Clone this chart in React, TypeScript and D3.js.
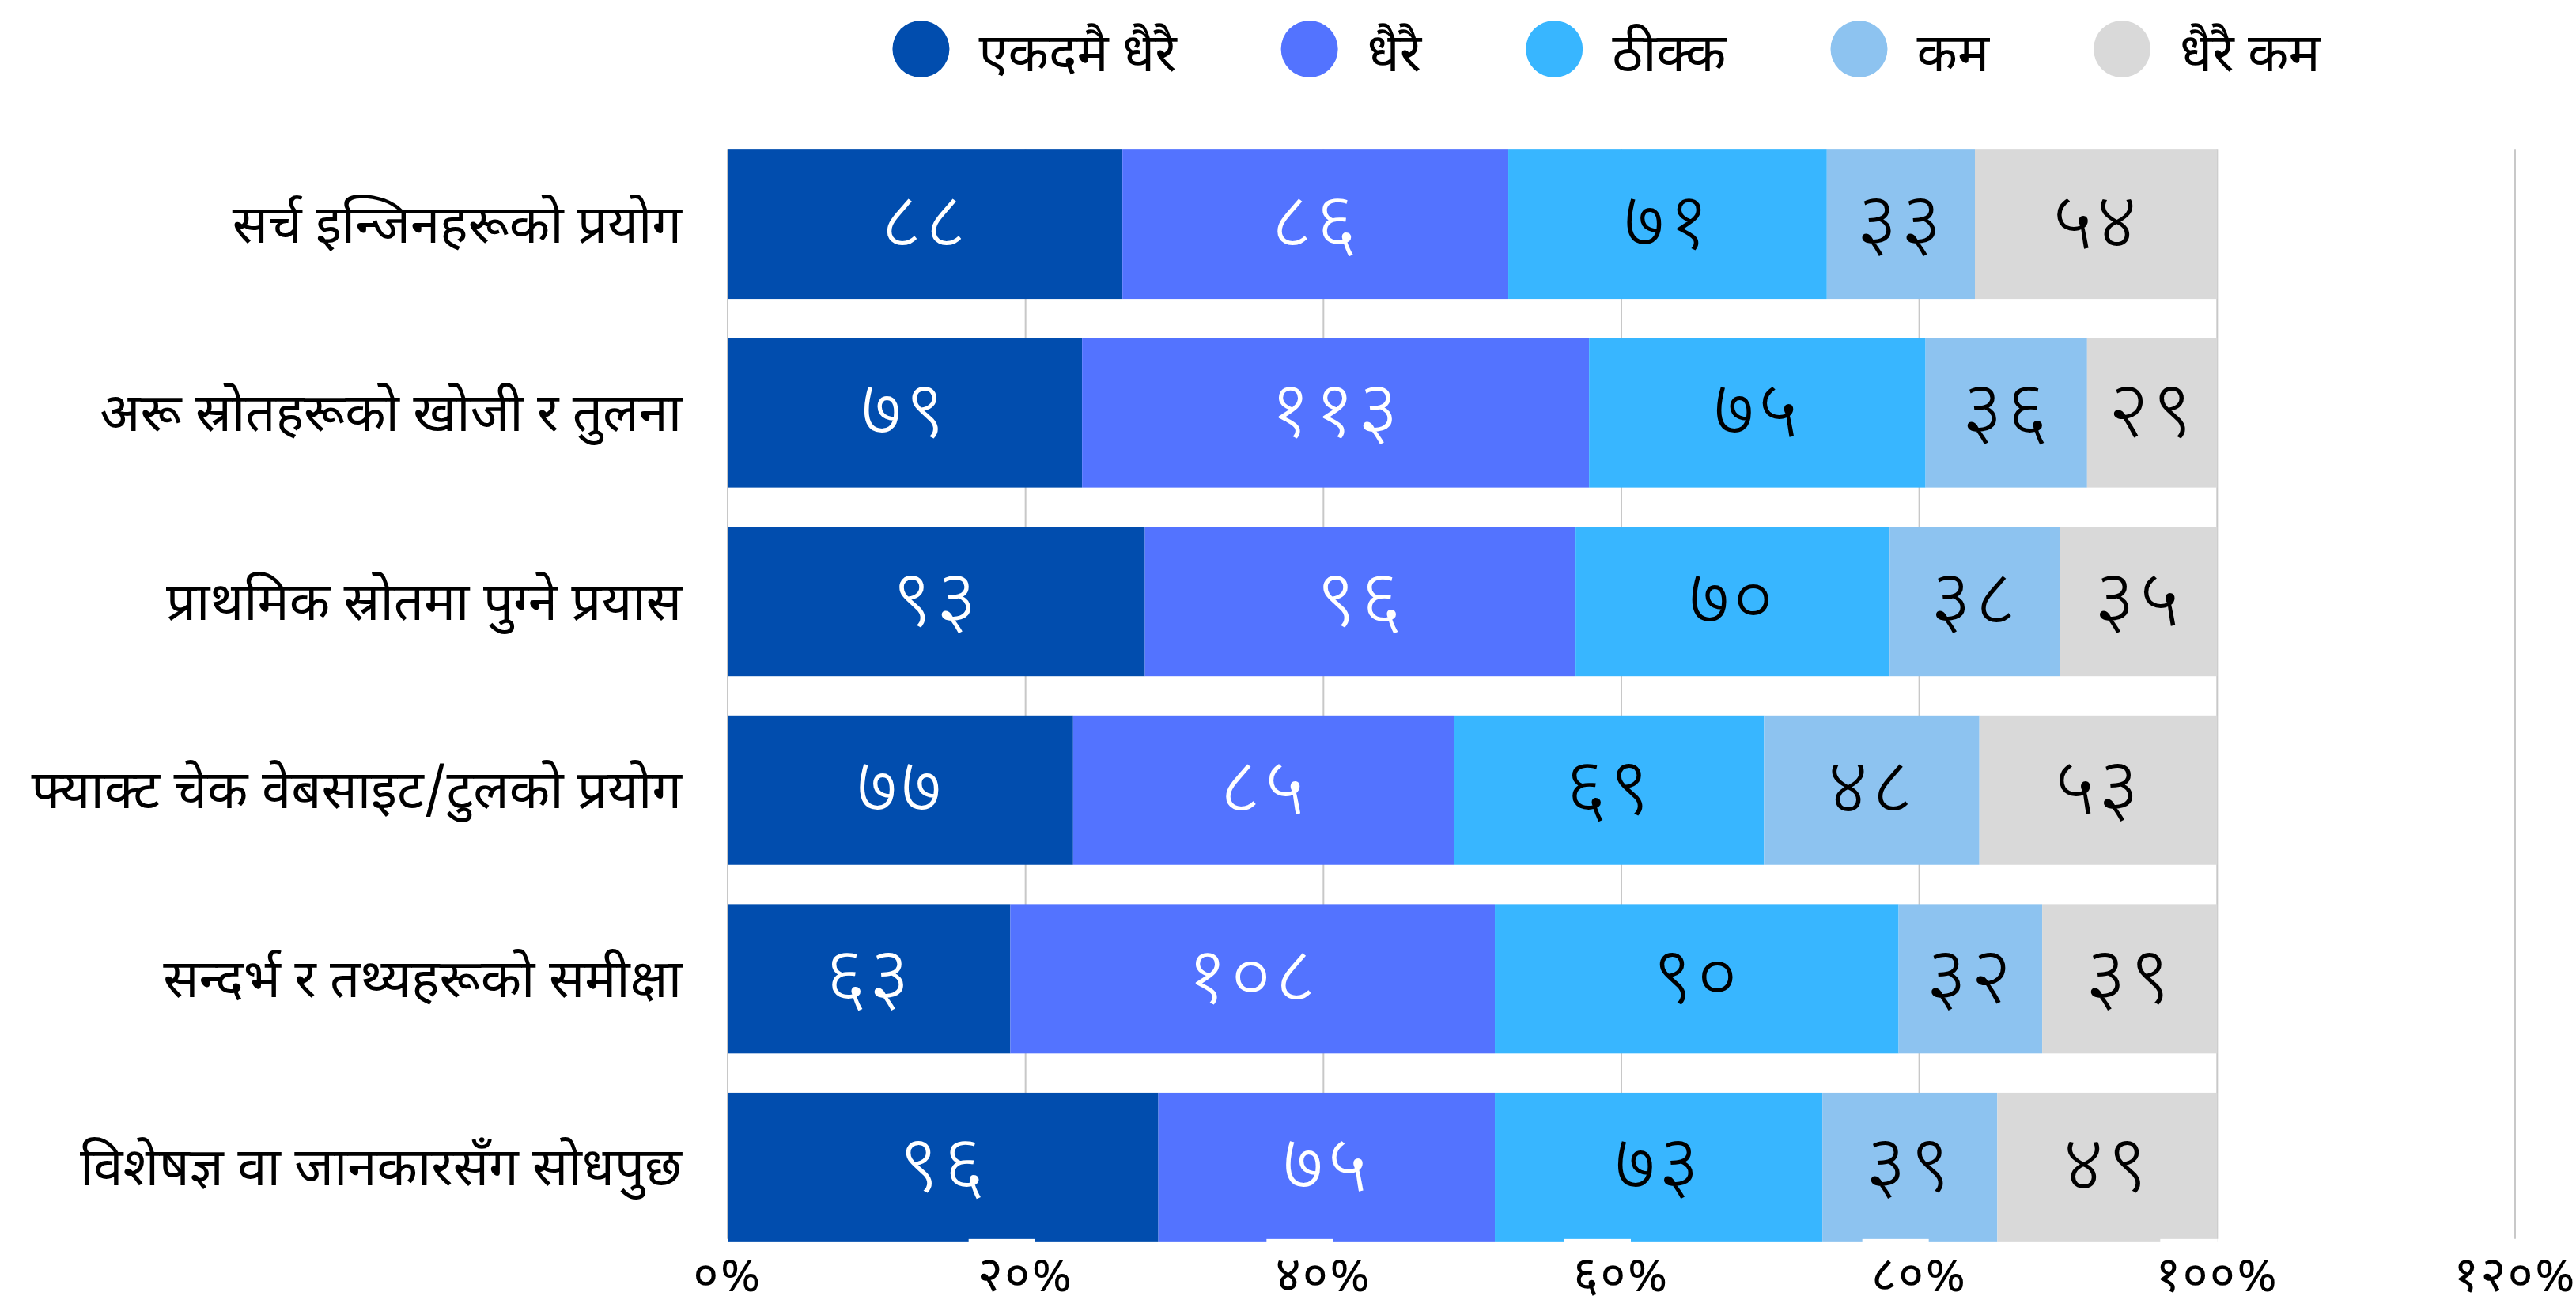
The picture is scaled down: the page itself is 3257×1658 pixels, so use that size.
import React, { useEffect, useRef } from "react";
import * as d3 from "d3";

// Survey: how often respondents use each verification practice
const categories = [
  "सर्च इन्जिनहरूको प्रयोग",
  "अरू स्रोतहरूको खोजी र तुलना",
  "प्राथमिक स्रोतमा पुग्ने प्रयास",
  "फ्याक्ट चेक वेबसाइट/टुलको प्रयोग",
  "सन्दर्भ र तथ्यहरूको समीक्षा",
  "विशेषज्ञ वा जानकारसँग सोधपुछ",
];

const seriesNames = ["एकदमै धैरै", "धैरै", "ठीक्क", "कम", "धैरै कम"];

const veryMuch = [88, 79, 93, 77, 63, 96];
const much = [86, 113, 96, 85, 108, 75];
const okay = [71, 75, 70, 69, 90, 73];
const little = [33, 36, 38, 48, 32, 39];
const veryLittle = [54, 29, 35, 53, 39, 49];

const xTicks = [0, 20, 40, 60, 80, 100, 120];

const seriesColors = ["#014DAE", "#5373FF", "#38B6FF", "#8DC3F0", "#D9D9D9"];
const labelColors = ["#ffffff", "#ffffff", "#000000", "#000000", "#000000"];

const W = 3257;
const H = 1658;
const FONT = "'Noto Sans Devanagari', 'Noto Sans', 'DejaVu Sans', sans-serif";

const DEVA = "०१२३४५६७८९";
const toDeva = (s: string) => s.replace(/[0-9]/g, (c) => DEVA[+c]);

export default function App() {
  const ref = useRef<SVGSVGElement | null>(null);

  useEffect(() => {
    const svg = d3.select(ref.current);
    svg.selectAll("*").remove();

    const keys = seriesNames;
    const columns = [veryMuch, much, okay, little, veryLittle];
    const rows = categories.map((c, i) => {
      const r: any = { category: c };
      keys.forEach((k, j) => (r[k] = columns[j][i]));
      return r;
    });

    const stacked = d3.stack<any>().keys(keys).offset(d3.stackOffsetExpand)(rows);

    const x = d3.scaleLinear().domain([0, 120]).range([920, 3180]);
    const y = d3
      .scaleBand<string>()
      .domain(categories)
      .range([166, 1594])
      .paddingInner(0.208)
      .paddingOuter(0.097);

    const top = y(categories[0])!;
    const bottom = y(categories[categories.length - 1])! + y.bandwidth();

    // vertical gridlines
    svg
      .append("g")
      .selectAll("line")
      .data(xTicks)
      .join("line")
      .attr("x1", (d) => x(d))
      .attr("x2", (d) => x(d))
      .attr("y1", top)
      .attr("y2", bottom - 4)
      .attr("stroke", "#c8c8c8")
      .attr("stroke-width", 2);

    // stacked segments
    const layers = svg
      .append("g")
      .selectAll("g")
      .data(stacked)
      .join("g")
      .attr("fill", (_d, i) => seriesColors[i]);

    layers
      .selectAll("rect")
      .data((d) => d)
      .join("rect")
      .attr("x", (d) => x(d[0] * 100))
      .attr("width", (d) => x(d[1] * 100) - x(d[0] * 100))
      .attr("y", (d) => y(d.data.category)!)
      .attr("height", y.bandwidth());

    // value labels
    stacked.forEach((layer, i) => {
      svg
        .append("g")
        .selectAll("text")
        .data(layer)
        .join("text")
        .attr("x", (d) => (x(d[0] * 100) + x(d[1] * 100)) / 2)
        .attr("y", (d) => y(d.data.category)! + y.bandwidth() / 2)
        .attr("dy", "0.3em")
        .attr("text-anchor", "middle")
        .attr("font-family", FONT)
        .attr("font-size", 100)
        .attr("font-weight", 300)
        .attr("letter-spacing", 4)
        .attr("fill", labelColors[i])
        .text((d) => toDeva(String(d.data[layer.key])));
    });

    // knock-outs along the baseline under the tick labels
    svg
      .append("g")
      .selectAll("rect")
      .data(xTicks.filter((t) => t > 0 && t <= 100))
      .join("rect")
      .attr("x", (d) => x(d) - 72)
      .attr("width", (d) => Math.min(84, x(100) - (x(d) - 72)))
      .attr("y", bottom - 4)
      .attr("height", 5)
      .attr("fill", "#ffffff");

    // category labels
    svg
      .append("g")
      .selectAll("text")
      .data(categories)
      .join("text")
      .attr("x", 862)
      .attr("y", (d) => y(d)! + y.bandwidth() / 2 + 23)
      .attr("text-anchor", "end")
      .attr("font-family", FONT)
      .attr("font-size", 67)
      .attr("fill", "#000")
      .text((d) => d);

    // x tick labels
    svg
      .append("g")
      .selectAll("text")
      .data(xTicks)
      .join("text")
      .attr("x", (d) => x(d))
      .attr("y", 1633)
      .attr("text-anchor", "middle")
      .attr("font-family", FONT)
      .attr("font-size", 62)
      .attr("letter-spacing", 2)
      .attr("fill", "#000")
      .text((d) => toDeva(String(d)) + "%");

    // legend
    const legend = svg.append("g");
    const r = 36;
    const gapText = 37;
    const gapItem = 132;
    const items = legend.selectAll("g").data(keys).join("g");
    items
      .append("circle")
      .attr("r", r)
      .attr("cy", 62)
      .attr("fill", (_d, i) => seriesColors[i]);
    const texts = items
      .append("text")
      .attr("y", 90)
      .attr("font-family", FONT)
      .attr("font-size", 67)
      .attr("fill", "#000")
      .text((d) => d);
    const widths: number[] = [];
    texts.each(function () {
      widths.push((this as SVGTextElement).getComputedTextLength());
    });
    const total =
      d3.sum(widths) + keys.length * (2 * r + gapText) + (keys.length - 1) * gapItem;
    let cx = 2031 - total / 2;
    items.each(function (_d, i) {
      const g = d3.select(this);
      g.select("circle").attr("cx", cx + r);
      g.select("text").attr("x", cx + 2 * r + gapText);
      cx += 2 * r + gapText + widths[i] + gapItem;
    });
  }, []);

  return (
    <svg
      ref={ref}
      width={W}
      height={H}
      viewBox={`0 0 ${W} ${H}`}
      style={{ position: "absolute", left: 0, top: 0, background: "#fff" }}
    />
  );
}
